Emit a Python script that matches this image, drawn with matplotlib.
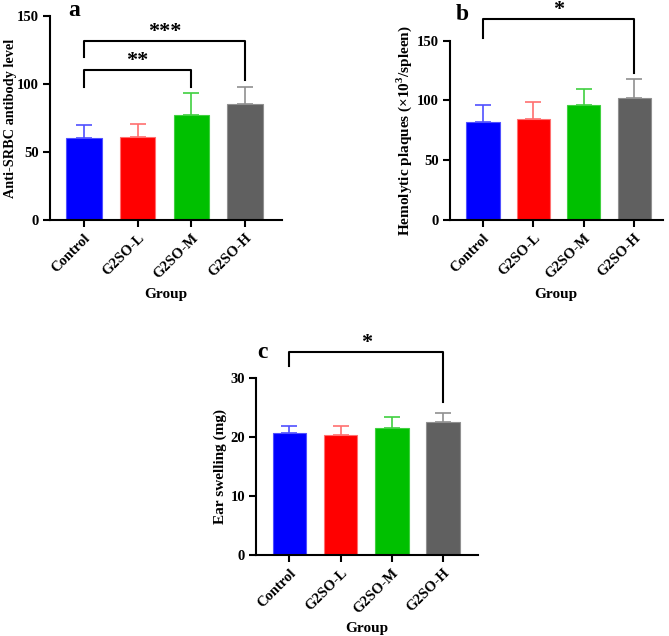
import numpy as np
import matplotlib.pyplot as plt

plt.rcParams['font.family'] = ['Liberation Serif', 'DejaVu Serif']
plt.rcParams['font.weight'] = 'bold'
plt.rcParams['mathtext.fontset'] = 'custom'
plt.rcParams['mathtext.bf'] = 'Liberation Serif:bold'

groups = ['Control', 'G2SO-L', 'G2SO-M', 'G2SO-H']
colors = ['#0000ff', '#ff0000', '#00c000', '#606060']
err_colors = ['#5050ff', '#ff7070', '#40d040', '#909090']

srbc_mean = [60.5, 61.3, 77.4, 85.5]
srbc_sd = [9.3, 9.5, 16.0, 12.5]

plaque_mean = [82.3, 84.5, 96.0, 102.0]
plaque_sd = [13.7, 14.5, 14.0, 15.7]

ear_mean = [20.7, 20.4, 21.6, 22.6]
ear_sd = [1.3, 1.6, 1.9, 1.6]

# brackets: (left group, right group, top y, left leg y, right leg y, label)
brackets_a = [(0, 2, 110.3, 98, 98, '**'), (0, 3, 131.4, 120, 103, '***')]
brackets_b = [(0, 3, 168, 152, 123, '*')]
brackets_c = [(0, 3, 34.5, 32.1, 26.0, '*')]


def panel(fig, rect, means, sds, ylabel, ylab_size, ymax, step, brackets, letter,
          letter_pos, xl, ylab_x, xlab_y):
    ax = fig.add_axes(rect)
    x = np.arange(len(groups))
    ax.bar(x, means, width=0.66, color=colors, edgecolor=err_colors, linewidth=0.8, zorder=2)
    for xi, m, s, ec in zip(x, means, sds, err_colors):
        ax.errorbar(xi, m, yerr=[[0], [s]], fmt='none', ecolor=ec, elinewidth=1.2,
                    capsize=5.5, capthick=1.2, zorder=1)
    for l, r, top, yl, yr, lab in brackets:
        ax.plot([l, l, r, r], [yl, top, top, yr], color='black', lw=1.5, clip_on=False)
        ax.annotate(lab, xy=((l + r) / 2, top), xytext=(0, 3), textcoords='offset points',
                    ha='center', va='baseline', fontsize=16, fontweight='bold',
                    annotation_clip=False)
    ax.set_ylim(0, ymax)
    ax.set_yticks(np.arange(0, ymax + 1, step))
    ax.set_xlim(*xl)
    ax.set_xticks(x)
    ax.set_xticklabels(groups, rotation=45, ha='right', rotation_mode='anchor')
    ax.spines['top'].set_visible(False)
    ax.spines['right'].set_visible(False)
    ax.spines['left'].set_linewidth(1.5)
    ax.spines['bottom'].set_linewidth(1.5)
    ax.tick_params(width=1.5, length=5, labelsize=10.5, pad=3)
    ax.set_ylabel(ylabel, fontsize=ylab_size, fontweight='bold')
    ax.yaxis.set_label_coords(ylab_x, 0.5)
    ax.set_xlabel('Group', fontsize=11, fontweight='bold')
    ax.xaxis.set_label_coords(0.5, xlab_y)
    fig.text(letter_pos[0] / 669, 1 - letter_pos[1] / 636, letter, fontsize=17,
             fontweight='bold', ha='center', va='center')
    return ax


fig = plt.figure(figsize=(6.69, 6.36), dpi=100)

panel(fig, [0.0747, 0.654, 0.347, 0.321], srbc_mean, srbc_sd,
      'Anti-SRBC antibody level', 10.3, 150, 50, brackets_a, 'a', (74, 10),
      (-0.63, 3.69), -0.142, -0.333)
panel(fig, [0.672, 0.654, 0.319, 0.282], plaque_mean, plaque_sd,
      'Hemolytic plaques (×10$^\\mathbf{3}$/spleen)', 11, 150, 50, brackets_b, 'b', (462, 14),
      (-0.66, 3.57), -0.168, -0.38)
panel(fig, [0.383, 0.127, 0.331, 0.278], ear_mean, ear_sd,
      'Ear swelling (mg)', 11, 30, 10, brackets_c, 'c', (262, 353),
      (-0.65, 3.68), -0.131, -0.38)

fig.savefig('out.png', dpi=100)
